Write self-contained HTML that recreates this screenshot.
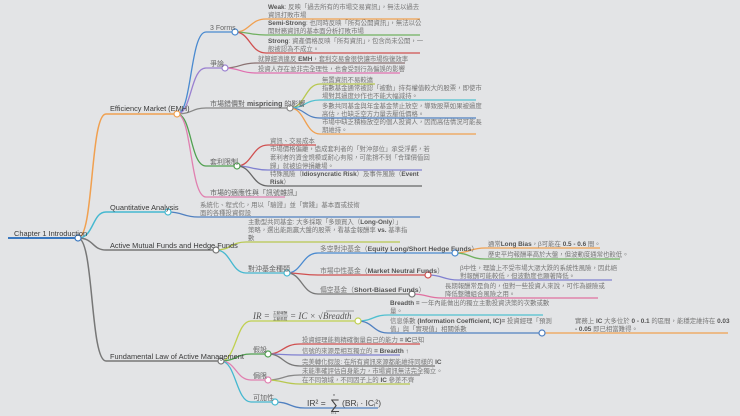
<!DOCTYPE html>
<html><head><meta charset="utf-8"><style>
html,body{margin:0;padding:0;background:#e3e4e6;}
svg{display:block;}
text{font-family:"Liberation Sans","Noto Sans CJK TC",sans-serif;}
.t{font-size:6.4px;fill:#777;}
.b{font-weight:bold;fill:#555;}
.l1{font-size:7.4px;fill:#3a3a3a;}
.l2{font-size:7px;fill:#666;}
.f{font-family:"Liberation Serif",serif;font-style:italic;fill:#555;}
</style></head><body>
<svg width="740" height="416" viewBox="0 0 740 416" xmlns="http://www.w3.org/2000/svg">
<rect width="740" height="416" fill="#e3e4e6"/>
<g fill="none" stroke-width="1.3">
<path d="M8,238 L78,238" stroke="#3a78c0" stroke-width="2"/>
<path d="M78,238 C94,238 90,114 106,114 L177,114" stroke="#f0a050" stroke-width="1.5"/>
<path d="M78,238 C94,238 92,212 106,212 L168,212" stroke="#45b8d0" stroke-width="1.5"/>
<path d="M78,238 C94,238 92,250 106,250 L216,250" stroke="#777" stroke-width="1.5"/>
<path d="M78,238 C94,238 90,361 106,361 L221,361" stroke="#777" stroke-width="1.5"/>
<path d="M177,114 C192,114 190,32 206,32 L235,32" stroke="#4a8ad0"/>
<path d="M177,114 C192,114 190,68 206,68 L225,68" stroke="#9a80d0"/>
<path d="M177,114 C192,114 192,108 206,108 L290,108" stroke="#888"/>
<path d="M177,114 C192,114 190,166 206,166 L237,166" stroke="#50a050"/>
<path d="M177,114 C192,114 190,197 206,197 L285,197" stroke="#e080b0"/>
<path d="M235,32 C250,32 250,19 266,19 L420,19" stroke="#f0a050"/>
<path d="M235,32 C250,32 250,35 266,35 L420,35" stroke="#70b060"/>
<path d="M235,32 C250,32 250,53 266,53 L420,53" stroke="#d05050"/>
<path d="M225,68 C240,68 240,63 256,63 L405,63" stroke="#8a7272"/>
<path d="M225,68 C240,68 240,73 256,73 L400,73" stroke="#e070b0"/>
<path d="M290,108 C305,108 305,84 320,84 L375,84" stroke="#b8c850"/>
<path d="M290,108 C305,108 305,100 320,100 L476,100" stroke="#50c0d0"/>
<path d="M290,108 C305,108 305,118 320,118 L476,118" stroke="#5080c0"/>
<path d="M290,108 C305,108 305,134 320,134 L476,134" stroke="#f0a050"/>
<path d="M237,166 C252,166 252,145 268,145 L316,145" stroke="#d05050"/>
<path d="M237,166 C252,166 252,170 268,170 L422,170" stroke="#8080d0"/>
<path d="M237,166 C252,166 252,186 268,186 L422,186" stroke="#666"/>
<path d="M168,212 C183,212 183,217 198,217 L420,217" stroke="#5080c0"/>
<path d="M216,250 C231,250 231,242 246,242 L400,242" stroke="#b8c850"/>
<path d="M216,250 C231,250 231,273 246,273 L287,273" stroke="#45b8d0"/>
<path d="M287,273 C302,273 302,253 318,253 L455,253" stroke="#4a8ad0"/>
<path d="M287,273 C302,273 302,275 318,275 L428,275" stroke="#d05050"/>
<path d="M287,273 C302,273 302,294 318,294 L412,294" stroke="#777"/>
<path d="M455,253 C470,253 470,248 485,248 L600,248" stroke="#f0a050"/>
<path d="M455,253 C470,253 470,259 485,259 L620,259" stroke="#70b060"/>
<path d="M428,275 C443,275 443,280 458,280 L612,280" stroke="#8080d0"/>
<path d="M412,294 C427,294 427,298 442,298 L598,298" stroke="#e070a0"/>
<path d="M221,361 C236,361 236,321 251,321 L358,321" stroke="#c0d050"/>
<path d="M221,361 C236,361 236,354 251,354 L268,354" stroke="#50a050"/>
<path d="M221,361 C236,361 236,380 251,380 L268,380" stroke="#e080b0"/>
<path d="M221,361 C236,361 236,402 251,402 L275,402" stroke="#45b8d0"/>
<path d="M358,321 C373,321 373,315 388,315 L543,315" stroke="#50c0d0"/>
<path d="M358,321 C373,321 373,333 388,333 L542,333" stroke="#5080c0"/>
<path d="M542,333 L728,333" stroke="#f0a050"/>
<path d="M268,354 C283,354 283,344 300,344 L420,344" stroke="#d05050"/>
<path d="M268,354 C283,354 283,355 300,355 L400,355" stroke="#8080d0"/>
<path d="M268,354 C283,354 283,366 300,366 L435,366" stroke="#777"/>
<path d="M268,380 C283,380 283,375 300,375 L420,375" stroke="#888"/>
<path d="M268,380 C283,380 283,384 300,384 L410,384" stroke="#b8c850"/>
<path d="M275,402 C290,402 290,408 305,408 L378,408" stroke="#5080c0"/>
</g>
<g fill="#fff" stroke-width="1.2">
<circle cx="78" cy="238" r="3" stroke="#3a78c0"/>
<circle cx="177" cy="114" r="3" stroke="#f0a050"/>
<circle cx="168" cy="212" r="3" stroke="#45b8d0"/>
<circle cx="216" cy="250" r="3" stroke="#777"/>
<circle cx="221" cy="361" r="3" stroke="#777"/>
<circle cx="235" cy="32" r="3" stroke="#4a8ad0"/>
<circle cx="225" cy="68" r="3" stroke="#9a80d0"/>
<circle cx="290" cy="108" r="3" stroke="#888"/>
<circle cx="237" cy="166" r="3" stroke="#50a050"/>
<circle cx="287" cy="273" r="3" stroke="#45b8d0"/>
<circle cx="455" cy="253" r="3" stroke="#4a8ad0"/>
<circle cx="428" cy="275" r="3" stroke="#d05050"/>
<circle cx="412" cy="294" r="3" stroke="#777"/>
<circle cx="358" cy="321" r="3" stroke="#c0d050"/>
<circle cx="542" cy="333" r="3" stroke="#5080c0"/>
<circle cx="268" cy="354" r="3" stroke="#50a050"/>
<circle cx="268" cy="380" r="3" stroke="#e080b0"/>
<circle cx="275" cy="402" r="3" stroke="#45b8d0"/>
</g>
<text class="l1" x="14" y="236">Chapter 1 Introduction</text>
<text class="l1" x="110" y="111">Efficiency Market (EMH)</text>
<text class="l1" x="110" y="210">Quantitative Analysis</text>
<text class="l1" x="110" y="248">Active Mutual Funds and Hedge Funds</text>
<text class="l1" x="110" y="359">Fundamental Law of Active Management</text>
<text class="l2" x="210" y="30">3 Forms</text>
<text class="l2" x="210" y="66">爭論</text>
<text class="l2" x="210" y="106">市場錯價對 <tspan class="b">mispricing</tspan> 的影響</text>
<text class="l2" x="210" y="164">套利限制</text>
<text class="l2" x="210" y="195">市場的適應性與「訊號雜訊」</text>
<g class="t">
<text x="268" y="9"><tspan class="b">Weak</tspan>: 反映「過去所有的市場交易資訊」，無法以過去</text>
<text x="268" y="17">資訊打敗市場</text>
<text x="268" y="25"><tspan class="b">Semi-Strong</tspan>: 也同時反映「所有公開資訊」，無法以公</text>
<text x="268" y="33">開財務資訊的基本面分析打敗市場</text>
<text x="268" y="43"><tspan class="b">Strong</tspan>: 資產價格反映「所有資訊」，包含尚未公開，一</text>
<text x="268" y="51">般被認為不成立。</text>
<text x="258" y="61">就算經濟違反 <tspan class="b">EMH</tspan>，套利交易會很快讓市場恢復效率</text>
<text x="258" y="71">投資人存在並非完全理性，也會受到行為偏誤的影響</text>
<text x="322" y="82">無置資訊不易較遠</text>
<text x="322" y="90">指數基金通常被認「被動」持有權值較大的股票，即使市</text>
<text x="322" y="98">場對其過度炒作也不能大幅減持。</text>
<text x="322" y="108">多數共同基金與年金基金禁止放空，導致股票如果被過度</text>
<text x="322" y="116">高估，也缺乏空方力量去壓低價格。</text>
<text x="322" y="124">市場中缺乏積極放空的個人投資人，因而高估情況可能長</text>
<text x="322" y="132">期維持。</text>
<text x="270" y="143">資訊、交易成本</text>
<text x="270" y="151">市場價格偏離，造成套利者的「對沖部位」承受浮虧，若</text>
<text x="270" y="159.5">套利者的資金規模或耐心有限，可能撐不到「合理價值回</text>
<text x="270" y="168">歸」就被迫停損離場。</text>
<text x="270" y="176">特殊風險（<tspan class="b">Idiosyncratic Risk</tspan>）及事件風險（<tspan class="b">Event</tspan></text>
<text x="270" y="184"><tspan class="b">Risk</tspan>）</text>
<text x="200" y="207">系統化、程式化，用以「驗證」並「實踐」基本面或技術</text>
<text x="200" y="215">面的各種投資假設</text>
<text x="248" y="224">主動型共同基金: 大多採取「多頭買入（<tspan class="b">Long-Only</tspan>）」</text>
<text x="248" y="232">策略，選出能跑贏大盤的股票，看基金報酬率 <tspan class="b">vs.</tspan> 基準指</text>
<text x="248" y="240">數</text>
<text class="l2" x="248" y="271">對沖基金種類</text>
<text x="320" y="251" style="font-size:6.8px">多空對沖基金（<tspan class="b">Equity Long/Short Hedge Funds</tspan>）</text>
<text x="320" y="273" style="font-size:6.8px">市場中性基金（<tspan class="b">Market Neutral Funds</tspan>）</text>
<text x="320" y="292" style="font-size:6.8px">偏空基金（<tspan class="b">Short-Biased Funds</tspan>）</text>
<text x="488" y="246">通常<tspan class="b">Long Bias</tspan>，β可能在 <tspan class="b">0.5 - 0.6</tspan> 間。</text>
<text x="488" y="256.5">歷史平均報酬率高於大盤，但波動度通常也較低。</text>
<text x="460" y="270">β中性，理論上不受市場大漲大跌的系統性風險，因此絕</text>
<text x="460" y="278">對報酬可能較低，但波動度也顯著降低。</text>
<text x="445" y="288">長期報酬常是負的，但對一些投資人來說，可作為避險或</text>
<text x="445" y="296">降低整體組合風險之用。</text>
<text x="390" y="305"><tspan class="b">Breadth =</tspan> 一年內能做出的獨立主動投資決策的次數或數</text>
<text x="390" y="313">量。</text>
<text x="390" y="323">信息係數 <tspan class="b">(Information Coefficient, IC)=</tspan> 投資經理「預測</text>
<text x="390" y="331">值」與「實現值」相關係數</text>
<text x="575" y="323">實務上 <tspan class="b">IC</tspan> 大多位於 <tspan class="b">0 - 0.1</tspan> 的區間，能穩定維持在 <tspan class="b">0.03</tspan></text>
<text x="575" y="331"><tspan class="b">- 0.05</tspan> 即已相當難得。</text>
<text x="302" y="342">投資經理能夠精確衡量自己的能力 <tspan class="b">= IC</tspan>已知</text>
<text x="302" y="353">信號的來源是相互獨立的 <tspan class="b">= Breadth ↑</tspan></text>
<text x="302" y="364">完美轉化假設: 在所有資訊來源都能維持同樣的 <tspan class="b">IC</tspan></text>
<text x="302" y="373">未能準確評估自身能力，市場資訊無法完全獨立。</text>
<text x="302" y="382">在不同領域，不同因子上的 <tspan class="b">IC</tspan> 參差不齊</text>
</g>
<text class="l2" x="253" y="352">假設</text>
<text class="l2" x="253" y="378">侷限</text>
<text class="l2" x="253" y="400">可加性</text>
<text class="f" x="253" y="319" font-size="9">IR =</text>
<text x="273" y="314" font-size="3.6" fill="#555">主動報酬</text>
<line x1="273" y1="316" x2="288" y2="316" stroke="#555" stroke-width="0.4"/>
<text x="273" y="320" font-size="3.6" fill="#555">主動風險</text>
<text class="f" x="290" y="319" font-size="9">= IC × √Breadth</text>
<line x1="326" y1="311" x2="354" y2="311" stroke="#555" stroke-width="0.6"/>
<text x="307" y="406" font-size="8.5" font-family="Liberation Serif,serif" fill="#444">IR² =</text>
<text x="330" y="409" font-size="14" font-family="Liberation Serif,serif" fill="#444">∑</text>
<text x="333" y="396" font-size="4" fill="#555">n</text>
<text x="331" y="414" font-size="4" fill="#555">i=1</text>
<text x="342" y="406" font-size="8.5" font-family="Liberation Serif,serif" fill="#444">(BRᵢ · ICᵢ²)</text>
</svg>
</body></html>
